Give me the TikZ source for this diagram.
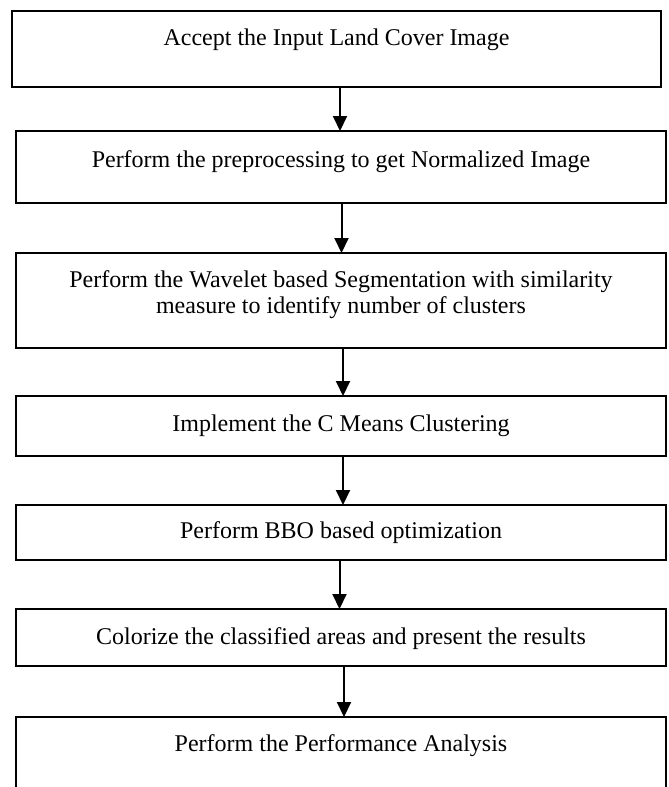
\documentclass[tikz,border=0pt]{standalone}
\usepackage{fontspec}
\setmainfont{Liberation Serif}
\usetikzlibrary{arrows.meta}
\tikzset{
  stepbox/.style={draw=black, line width=1pt, rectangle, inner sep=0pt, outer sep=0pt,
    anchor=north west, minimum width=325pt,
    font=\fontsize{12pt}{13pt}\selectfont},
  arr/.style={draw=black, line width=1pt, -{Triangle[length=7.5pt,width=7pt]}}
}
\begin{document}
\begin{tikzpicture}[x=0.5pt,y=-0.5pt]
\fill[white] (0,0) rectangle (669,787);
\useasboundingbox (0,0) rectangle (669,787);
\node[stepbox, minimum width=324.5pt, text height=17.5pt, text depth=20.5pt] (b1) at (12,11) {Accept the Input Land Cover Image};
\node[stepbox, text height=18pt, text depth=18pt] (b2) at (16,131) {Perform the preprocessing to get Normalized Image};
\node[stepbox, text height=17pt, text depth=30.5pt] (b3) at (16,253) {\begin{tabular}[t]{@{}c@{}}Perform the Wavelet based Segmentation with similarity\\measure to identify number of clusters\end{tabular}};
\node[stepbox, text height=17.5pt, text depth=12.5pt] (b4) at (16,396) {Implement the C Means Clustering};
\node[stepbox, text height=16.5pt, text depth=11pt] (b5) at (16,505) {Perform BBO based optimization};
\node[stepbox, text height=17.5pt, text depth=11pt] (b6) at (16,609) {Colorize the classified areas and present the results};
\node[stepbox, text height=17pt, text depth=22pt] (b7) at (16,717) {Perform the Performance Analysis};
\coordinate (x1) at (340,0);
\coordinate (x2) at (341.5,0);
\coordinate (x3) at (343,0);
\coordinate (x4) at (343,0);
\coordinate (x5) at (339.5,0);
\coordinate (x6) at (344,0);
\draw[arr] (b1.south -| x1) -- (b2.north -| x1);
\draw[arr] (b2.south -| x2) -- (b3.north -| x2);
\draw[arr] (b3.south -| x3) -- (b4.north -| x3);
\draw[arr] (b4.south -| x4) -- (b5.north -| x4);
\draw[arr] (b5.south -| x5) -- (b6.north -| x5);
\draw[arr] (b6.south -| x6) -- (b7.north -| x6);
\end{tikzpicture}
\end{document}
